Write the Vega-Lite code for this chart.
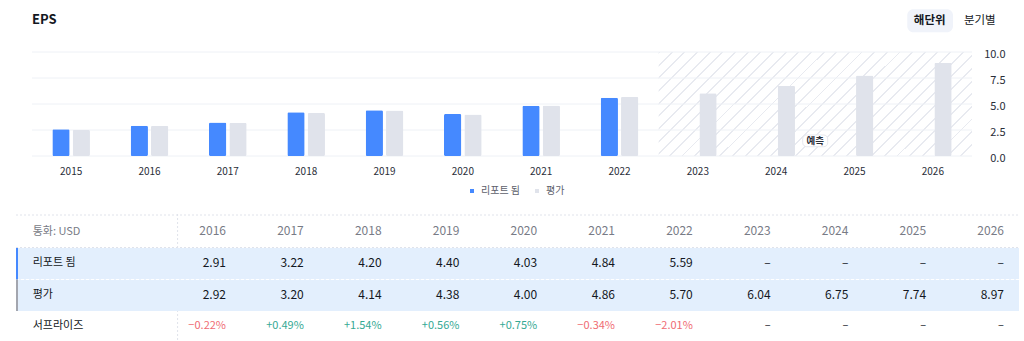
{
  "$schema": "https://vega.github.io/schema/vega-lite/v6.json",
  "padding": {"left": 15, "top": 9, "right": 0, "bottom": 0},
  "background": "#ffffff",
  "spacing": 17,
  "config": {"font": "Noto Sans CJK KR", "view": {"stroke": null}, "axis": {"labelOverlap": false}},
  "resolve": {"scale": {"color": "independent", "x": "independent", "y": "independent"}, "legend": {"color": "independent"}},
  "datasets": {
    "eps": [
      {"year": "2015", "series": "리포트 됨", "eps": 2.57},
      {"year": "2015", "series": "평가", "eps": 2.51},
      {"year": "2016", "series": "리포트 됨", "eps": 2.91},
      {"year": "2016", "series": "평가", "eps": 2.92},
      {"year": "2017", "series": "리포트 됨", "eps": 3.22},
      {"year": "2017", "series": "평가", "eps": 3.20},
      {"year": "2018", "series": "리포트 됨", "eps": 4.20},
      {"year": "2018", "series": "평가", "eps": 4.14},
      {"year": "2019", "series": "리포트 됨", "eps": 4.40},
      {"year": "2019", "series": "평가", "eps": 4.38},
      {"year": "2020", "series": "리포트 됨", "eps": 4.03},
      {"year": "2020", "series": "평가", "eps": 4.00},
      {"year": "2021", "series": "리포트 됨", "eps": 4.84},
      {"year": "2021", "series": "평가", "eps": 4.86},
      {"year": "2022", "series": "리포트 됨", "eps": 5.59},
      {"year": "2022", "series": "평가", "eps": 5.70},
      {"year": "2023", "series": "평가", "eps": 6.04},
      {"year": "2024", "series": "평가", "eps": 6.75},
      {"year": "2025", "series": "평가", "eps": 7.74},
      {"year": "2026", "series": "평가", "eps": 8.97}
    ],
    "grid": [{"v": 0}, {"v": 2.5}, {"v": 5}, {"v": 7.5}, {"v": 10}],
    "rows": [{"row": "통화: USD"}, {"row": "리포트 됨"}, {"row": "평가"}, {"row": "서프라이즈"}],
    "cells": [
      {"row": "통화: USD", "year": 2016, "text": "2016"},
      {"row": "통화: USD", "year": 2017, "text": "2017"},
      {"row": "통화: USD", "year": 2018, "text": "2018"},
      {"row": "통화: USD", "year": 2019, "text": "2019"},
      {"row": "통화: USD", "year": 2020, "text": "2020"},
      {"row": "통화: USD", "year": 2021, "text": "2021"},
      {"row": "통화: USD", "year": 2022, "text": "2022"},
      {"row": "통화: USD", "year": 2023, "text": "2023"},
      {"row": "통화: USD", "year": 2024, "text": "2024"},
      {"row": "통화: USD", "year": 2025, "text": "2025"},
      {"row": "통화: USD", "year": 2026, "text": "2026"},
      {"row": "리포트 됨", "year": 2016, "text": "2.91"},
      {"row": "리포트 됨", "year": 2017, "text": "3.22"},
      {"row": "리포트 됨", "year": 2018, "text": "4.20"},
      {"row": "리포트 됨", "year": 2019, "text": "4.40"},
      {"row": "리포트 됨", "year": 2020, "text": "4.03"},
      {"row": "리포트 됨", "year": 2021, "text": "4.84"},
      {"row": "리포트 됨", "year": 2022, "text": "5.59"},
      {"row": "리포트 됨", "year": 2023, "text": "–"},
      {"row": "리포트 됨", "year": 2024, "text": "–"},
      {"row": "리포트 됨", "year": 2025, "text": "–"},
      {"row": "리포트 됨", "year": 2026, "text": "–"},
      {"row": "평가", "year": 2016, "text": "2.92"},
      {"row": "평가", "year": 2017, "text": "3.20"},
      {"row": "평가", "year": 2018, "text": "4.14"},
      {"row": "평가", "year": 2019, "text": "4.38"},
      {"row": "평가", "year": 2020, "text": "4.00"},
      {"row": "평가", "year": 2021, "text": "4.86"},
      {"row": "평가", "year": 2022, "text": "5.70"},
      {"row": "평가", "year": 2023, "text": "6.04"},
      {"row": "평가", "year": 2024, "text": "6.75"},
      {"row": "평가", "year": 2025, "text": "7.74"},
      {"row": "평가", "year": 2026, "text": "8.97"},
      {"row": "서프라이즈", "year": 2016, "text": "−0.22%", "surprise": -0.22},
      {"row": "서프라이즈", "year": 2017, "text": "+0.49%", "surprise": 0.49},
      {"row": "서프라이즈", "year": 2018, "text": "+1.54%", "surprise": 1.54},
      {"row": "서프라이즈", "year": 2019, "text": "+0.56%", "surprise": 0.56},
      {"row": "서프라이즈", "year": 2020, "text": "+0.75%", "surprise": 0.75},
      {"row": "서프라이즈", "year": 2021, "text": "−0.34%", "surprise": -0.34},
      {"row": "서프라이즈", "year": 2022, "text": "−2.01%", "surprise": -2.01},
      {"row": "서프라이즈", "year": 2023, "text": "–"},
      {"row": "서프라이즈", "year": 2024, "text": "–"},
      {"row": "서프라이즈", "year": 2025, "text": "–"},
      {"row": "서프라이즈", "year": 2026, "text": "–"}
    ]
  },
  "vconcat": [
    {
      "width": 956,
      "height": 104,
      "encoding": {
        "x": {"type": "ordinal", "scale": {"domain": ["2015","2016","2017","2018","2019","2020","2021","2022","2023","2024","2025","2026"], "paddingInner": 0, "paddingOuter": 0.102, "align": 1, "round": false}},
        "y": {"type": "quantitative", "scale": {"domain": [0, 10], "nice": false, "zero": false}, "axis": {"orient": "right", "title": null, "values": [0, 2.5, 5, 7.5, 10], "format": ".1f", "grid": false, "domain": false, "ticks": false, "labelPadding": 33, "labelAlign": "right", "labelBaseline": "middle", "labelOffset": 2, "labelFlush": false, "labelOverlap": false, "labelSeparation": 0, "labelFontSize": 11, "labelColor": "#2a2e39"}}
      },
      "layer": [
        {
          "data": {"name": "eps"},
          "mark": {"type": "bar", "cornerRadius": 1.5, "opacity": 0},
          "encoding": {
            "x": {"field": "year", "type": "ordinal", "axis": {"orient": "bottom", "title": null, "bandPosition": 0.5, "labelAngle": 0, "labelAlign": "center", "domain": false, "ticks": false, "labelPadding": 10, "labelFontSize": 10, "labelColor": "#2a2e39"}},
            "xOffset": {"field": "series", "type": "nominal", "scale": {"domain": ["리포트 됨", "평가"], "paddingInner": 0.15, "paddingOuter": 1.0325}},
            "y": {"field": "eps", "type": "quantitative", "axis": {"orient": "right", "title": null, "values": [0, 2.5, 5, 7.5, 10], "format": ".1f", "grid": false, "domain": false, "ticks": false, "labelPadding": 33, "labelAlign": "right", "labelBaseline": "middle", "labelOffset": 2, "labelFlush": false, "labelOverlap": false, "labelSeparation": 0, "labelFontSize": 11, "labelColor": "#2a2e39"}}
          }
        },
        {
          "data": {"values": [{"zone": "예측"}]},
          "mark": {"type": "rect", "fill": {"gradient": "linear", "x1": 0, "y1": 0, "x2": 1.1998, "y2": 0.3987, "stops": [
            {"offset": 0, "color": "#e8eaf0"}, {"offset": 0.00455, "color": "#e8eaf0"}, {"offset": 0.00455, "color": "#ffffff"}, {"offset": 0.0303, "color": "#ffffff"},
            {"offset": 0.0303, "color": "#e8eaf0"}, {"offset": 0.03485, "color": "#e8eaf0"}, {"offset": 0.03485, "color": "#ffffff"}, {"offset": 0.0606, "color": "#ffffff"},
            {"offset": 0.0606, "color": "#e8eaf0"}, {"offset": 0.06515, "color": "#e8eaf0"}, {"offset": 0.06515, "color": "#ffffff"}, {"offset": 0.0909, "color": "#ffffff"},
            {"offset": 0.0909, "color": "#e8eaf0"}, {"offset": 0.09545, "color": "#e8eaf0"}, {"offset": 0.09545, "color": "#ffffff"}, {"offset": 0.12121, "color": "#ffffff"},
            {"offset": 0.12121, "color": "#e8eaf0"}, {"offset": 0.12576, "color": "#e8eaf0"}, {"offset": 0.12576, "color": "#ffffff"}, {"offset": 0.15152, "color": "#ffffff"},
            {"offset": 0.15152, "color": "#e8eaf0"}, {"offset": 0.15606, "color": "#e8eaf0"}, {"offset": 0.15606, "color": "#ffffff"}, {"offset": 0.18182, "color": "#ffffff"},
            {"offset": 0.18182, "color": "#e8eaf0"}, {"offset": 0.18636, "color": "#e8eaf0"}, {"offset": 0.18636, "color": "#ffffff"}, {"offset": 0.21212, "color": "#ffffff"},
            {"offset": 0.21212, "color": "#e8eaf0"}, {"offset": 0.21667, "color": "#e8eaf0"}, {"offset": 0.21667, "color": "#ffffff"}, {"offset": 0.24242, "color": "#ffffff"},
            {"offset": 0.24242, "color": "#e8eaf0"}, {"offset": 0.24697, "color": "#e8eaf0"}, {"offset": 0.24697, "color": "#ffffff"}, {"offset": 0.27273, "color": "#ffffff"},
            {"offset": 0.27273, "color": "#e8eaf0"}, {"offset": 0.27727, "color": "#e8eaf0"}, {"offset": 0.27727, "color": "#ffffff"}, {"offset": 0.30303, "color": "#ffffff"},
            {"offset": 0.30303, "color": "#e8eaf0"}, {"offset": 0.30758, "color": "#e8eaf0"}, {"offset": 0.30758, "color": "#ffffff"}, {"offset": 0.33333, "color": "#ffffff"},
            {"offset": 0.33333, "color": "#e8eaf0"}, {"offset": 0.33788, "color": "#e8eaf0"}, {"offset": 0.33788, "color": "#ffffff"}, {"offset": 0.36364, "color": "#ffffff"},
            {"offset": 0.36364, "color": "#e8eaf0"}, {"offset": 0.36818, "color": "#e8eaf0"}, {"offset": 0.36818, "color": "#ffffff"}, {"offset": 0.39394, "color": "#ffffff"},
            {"offset": 0.39394, "color": "#e8eaf0"}, {"offset": 0.39848, "color": "#e8eaf0"}, {"offset": 0.39848, "color": "#ffffff"}, {"offset": 0.42424, "color": "#ffffff"},
            {"offset": 0.42424, "color": "#e8eaf0"}, {"offset": 0.42879, "color": "#e8eaf0"}, {"offset": 0.42879, "color": "#ffffff"}, {"offset": 0.45455, "color": "#ffffff"},
            {"offset": 0.45455, "color": "#e8eaf0"}, {"offset": 0.45909, "color": "#e8eaf0"}, {"offset": 0.45909, "color": "#ffffff"}, {"offset": 0.48485, "color": "#ffffff"},
            {"offset": 0.48485, "color": "#e8eaf0"}, {"offset": 0.48939, "color": "#e8eaf0"}, {"offset": 0.48939, "color": "#ffffff"}, {"offset": 0.51515, "color": "#ffffff"},
            {"offset": 0.51515, "color": "#e8eaf0"}, {"offset": 0.5197, "color": "#e8eaf0"}, {"offset": 0.5197, "color": "#ffffff"}, {"offset": 0.54545, "color": "#ffffff"},
            {"offset": 0.54545, "color": "#e8eaf0"}, {"offset": 0.55, "color": "#e8eaf0"}, {"offset": 0.55, "color": "#ffffff"}, {"offset": 0.57576, "color": "#ffffff"},
            {"offset": 0.57576, "color": "#e8eaf0"}, {"offset": 0.5803, "color": "#e8eaf0"}, {"offset": 0.5803, "color": "#ffffff"}, {"offset": 0.60606, "color": "#ffffff"},
            {"offset": 0.60606, "color": "#e8eaf0"}, {"offset": 0.61061, "color": "#e8eaf0"}, {"offset": 0.61061, "color": "#ffffff"}, {"offset": 0.63636, "color": "#ffffff"},
            {"offset": 0.63636, "color": "#e8eaf0"}, {"offset": 0.64091, "color": "#e8eaf0"}, {"offset": 0.64091, "color": "#ffffff"}, {"offset": 0.66667, "color": "#ffffff"},
            {"offset": 0.66667, "color": "#e8eaf0"}, {"offset": 0.67121, "color": "#e8eaf0"}, {"offset": 0.67121, "color": "#ffffff"}, {"offset": 0.69697, "color": "#ffffff"},
            {"offset": 0.69697, "color": "#e8eaf0"}, {"offset": 0.70152, "color": "#e8eaf0"}, {"offset": 0.70152, "color": "#ffffff"}, {"offset": 0.72727, "color": "#ffffff"},
            {"offset": 0.72727, "color": "#e8eaf0"}, {"offset": 0.73182, "color": "#e8eaf0"}, {"offset": 0.73182, "color": "#ffffff"}, {"offset": 0.75758, "color": "#ffffff"},
            {"offset": 0.75758, "color": "#e8eaf0"}, {"offset": 0.76212, "color": "#e8eaf0"}, {"offset": 0.76212, "color": "#ffffff"}, {"offset": 0.78788, "color": "#ffffff"},
            {"offset": 0.78788, "color": "#e8eaf0"}, {"offset": 0.79242, "color": "#e8eaf0"}, {"offset": 0.79242, "color": "#ffffff"}, {"offset": 0.81818, "color": "#ffffff"},
            {"offset": 0.81818, "color": "#e8eaf0"}, {"offset": 0.82273, "color": "#e8eaf0"}, {"offset": 0.82273, "color": "#ffffff"}, {"offset": 0.84848, "color": "#ffffff"},
            {"offset": 0.84848, "color": "#e8eaf0"}, {"offset": 0.85303, "color": "#e8eaf0"}, {"offset": 0.85303, "color": "#ffffff"}, {"offset": 0.87879, "color": "#ffffff"},
            {"offset": 0.87879, "color": "#e8eaf0"}, {"offset": 0.88333, "color": "#e8eaf0"}, {"offset": 0.88333, "color": "#ffffff"}, {"offset": 0.90909, "color": "#ffffff"},
            {"offset": 0.90909, "color": "#e8eaf0"}, {"offset": 0.91364, "color": "#e8eaf0"}, {"offset": 0.91364, "color": "#ffffff"}, {"offset": 0.93939, "color": "#ffffff"},
            {"offset": 0.93939, "color": "#e8eaf0"}, {"offset": 0.94394, "color": "#e8eaf0"}, {"offset": 0.94394, "color": "#ffffff"}, {"offset": 0.9697, "color": "#ffffff"},
            {"offset": 0.9697, "color": "#e8eaf0"}, {"offset": 0.97424, "color": "#e8eaf0"}, {"offset": 0.97424, "color": "#ffffff"}, {"offset": 1, "color": "#ffffff"}
          ]}},
          "encoding": {
            "x": {"datum": "2023", "type": "ordinal", "bandPosition": 0},
            "x2": {"datum": "2026", "bandPosition": 1},
            "y": {"datum": 0, "type": "quantitative"},
            "y2": {"datum": 10}
          }
        },
        {
          "data": {"name": "grid"},
          "mark": {"type": "rule", "color": "#eef1f6", "strokeWidth": 1},
          "encoding": {
            "y": {"field": "v", "type": "quantitative"},
            "x": {"datum": "2015", "type": "ordinal", "bandPosition": 0},
            "x2": {"datum": "2026", "bandPosition": 1}
          }
        },
        {
          "data": {"name": "eps"},
          "mark": {"type": "bar", "cornerRadius": 1.5},
          "encoding": {
            "x": {"field": "year", "type": "ordinal"},
            "xOffset": {"field": "series", "type": "nominal"},
            "y": {"field": "eps", "type": "quantitative"},
            "color": {"field": "series", "type": "nominal", "scale": {"domain": ["리포트 됨", "평가"], "range": ["#4589ff", "#e0e3eb"]}, "legend": {"orient": "none", "legendX": 451, "legendY": 134, "direction": "horizontal", "title": null, "symbolType": "square", "symbolSize": 16, "symbolStrokeWidth": 0, "labelFontSize": 10, "labelColor": "#5d606b", "labelOffset": 4, "columnPadding": 11, "encode": {"symbols": {"update": {"fill": [{"test": "datum.label === '평가'", "value": "#b2b5be"}, {"value": "#4589ff"}]}}}}}
          }
        },
        {
          "data": {"values": [{"label": "예측"}]},
          "mark": {"type": "rect", "fill": "#ffffff", "stroke": "#e6e8ee", "strokeWidth": 1, "cornerRadius": 4},
          "encoding": {
            "x": {"datum": "2024", "type": "ordinal", "bandPosition": 0.839},
            "x2": {"datum": "2024", "bandPosition": 1.158},
            "y": {"datum": 2.02, "type": "quantitative"},
            "y2": {"datum": 0.89}
          }
        },
        {
          "data": {"values": [{"label": "예측"}]},
          "mark": {"type": "text", "fontSize": 9.5, "fontWeight": "bold", "color": "#2a2e39", "align": "center", "baseline": "middle"},
          "encoding": {
            "x": {"datum": "2024", "type": "ordinal", "bandPosition": 1.0},
            "y": {"datum": 1.44, "type": "quantitative"},
            "text": {"field": "label"}
          }
        },
        {
          "data": {"values": [{"label": "해단위"}]},
          "mark": {"type": "rect", "fill": "#f0f3fa", "cornerRadius": 6},
          "encoding": {
            "x": {"datum": "2026", "type": "ordinal", "bandPosition": 0.174},
            "x2": {"datum": "2026", "bandPosition": 0.757},
            "y": {"datum": 14.1, "type": "quantitative"},
            "y2": {"datum": 11.89}
          }
        },
        {
          "data": {"values": [{"label": "EPS"}]},
          "mark": {"type": "text", "fontSize": 13, "fontWeight": "bold", "color": "#131722", "align": "left", "baseline": "middle"},
          "encoding": {
            "x": {"datum": "2015", "type": "ordinal", "bandPosition": 0},
            "y": {"datum": 13.1, "type": "quantitative"},
            "text": {"field": "label"}
          }
        },
        {
          "data": {"values": [{"label": "해단위"}]},
          "mark": {"type": "text", "fontSize": 11.5, "fontWeight": "bold", "color": "#131722", "align": "center", "baseline": "middle"},
          "encoding": {
            "x": {"datum": "2026", "type": "ordinal", "bandPosition": 0.46},
            "y": {"datum": 13.0, "type": "quantitative"},
            "text": {"field": "label"}
          }
        },
        {
          "data": {"values": [{"label": "분기별"}]},
          "mark": {"type": "text", "fontSize": 11.5, "color": "#131722", "align": "center", "baseline": "middle"},
          "encoding": {
            "x": {"datum": "2026", "type": "ordinal", "bandPosition": 1.1},
            "y": {"datum": 13.0, "type": "quantitative"},
            "text": {"field": "label"}
          }
        }
      ]
    },
    {
      "width": 1003,
      "height": 126,
      "encoding": {
        "x": {"type": "quantitative", "scale": {"domain": [2013.301, 2026.193], "nice": false, "zero": false}, "axis": null},
        "y": {"type": "nominal", "scale": {"domain": ["통화: USD", "리포트 됨", "평가", "서프라이즈"], "paddingInner": 0, "paddingOuter": 0, "round": false}, "axis": null}
      },
      "layer": [
        {
          "data": {"values": [{"k": "divider"}]},
          "mark": {"type": "rule", "color": "#e0e3eb", "strokeDash": [2, 2]},
          "encoding": {
            "x": {"datum": 2015.378, "type": "quantitative"},
            "y": {"datum": "통화: USD", "type": "nominal", "bandPosition": 0},
            "y2": {"datum": "서프라이즈", "bandPosition": 1}
          }
        },
        {
          "data": {"values": [{"k": "top"}]},
          "mark": {"type": "rule", "color": "#e0e3eb", "strokeDash": [2, 2], "yOffset": 1},
          "encoding": {
            "y": {"datum": "통화: USD", "type": "nominal", "bandPosition": 0},
            "x": {"datum": 2013.301, "type": "quantitative"},
            "x2": {"datum": 2026.193}
          }
        },
        {
          "data": {"name": "rows"},
          "transform": [{"filter": "datum.row === '리포트 됨' || datum.row === '평가'"}],
          "mark": {"type": "rect", "fill": "#e3effd", "yOffset": 2.5, "y2Offset": 2.5},
          "encoding": {
            "y": {"field": "row", "type": "nominal"},
            "x": {"datum": 2013.301, "type": "quantitative"},
            "x2": {"datum": 2026.193}
          }
        },
        {
          "data": {"values": [{"k": "sep"}]},
          "mark": {"type": "rule", "color": "#e0e3eb", "strokeDash": [2, 2], "yOffset": 2},
          "encoding": {
            "y": {"datum": "리포트 됨", "type": "nominal", "bandPosition": 0},
            "x": {"datum": 2013.301, "type": "quantitative"},
            "x2": {"datum": 2026.193}
          }
        },
        {
          "data": {"values": [{"k": "sep2"}]},
          "mark": {"type": "rule", "color": "#ffffff", "strokeDash": [3, 2], "yOffset": 2.5},
          "encoding": {
            "y": {"datum": "평가", "type": "nominal", "bandPosition": 0},
            "x": {"datum": 2013.301, "type": "quantitative"},
            "x2": {"datum": 2026.193}
          }
        },
        {
          "data": {"name": "rows"},
          "transform": [{"filter": "datum.row === '리포트 됨' || datum.row === '평가'"}],
          "mark": {"type": "rect", "yOffset": 2.5, "y2Offset": 2.5},
          "encoding": {
            "y": {"field": "row", "type": "nominal"},
            "x": {"datum": 2013.301, "type": "quantitative"},
            "x2": {"datum": 2013.327},
            "color": {"condition": {"test": "datum.row === '리포트 됨'", "value": "#4589ff"}, "value": "#a3a6af"}
          }
        },
        {
          "data": {"name": "rows"},
          "mark": {"type": "text", "align": "left", "baseline": "middle", "fontSize": 11, "dy": 2},
          "encoding": {
            "y": {"field": "row", "type": "nominal"},
            "x": {"datum": 2013.516, "type": "quantitative"},
            "text": {"field": "row"},
            "color": {"condition": {"test": "datum.row === '통화: USD'", "value": "#787b86"}, "value": "#131722"}
          }
        },
        {
          "data": {"name": "cells"},
          "transform": [{"filter": "datum.row === '통화: USD'"}],
          "mark": {"type": "text", "align": "right", "baseline": "middle", "fontSize": 12, "dy": 1, "color": "#787b86"},
          "encoding": {
            "y": {"field": "row", "type": "nominal"},
            "x": {"field": "year", "type": "quantitative"},
            "text": {"field": "text"}
          }
        },
        {
          "data": {"name": "cells"},
          "transform": [{"filter": "datum.row === '리포트 됨' || datum.row === '평가'"}],
          "mark": {"type": "text", "align": "right", "baseline": "middle", "fontSize": 12, "dy": 2, "color": "#131722"},
          "encoding": {
            "y": {"field": "row", "type": "nominal"},
            "x": {"field": "year", "type": "quantitative"},
            "text": {"field": "text"}
          }
        },
        {
          "data": {"name": "cells"},
          "transform": [{"filter": "datum.row === '서프라이즈'"}],
          "mark": {"type": "text", "align": "right", "baseline": "middle", "fontSize": 11, "dy": 2},
          "encoding": {
            "y": {"field": "row", "type": "nominal"},
            "x": {"field": "year", "type": "quantitative"},
            "text": {"field": "text"},
            "color": {"condition": [{"test": "datum.surprise < 0", "value": "#f06b73"}, {"test": "datum.surprise > 0", "value": "#35a994"}], "value": "#131722"}
          }
        }
      ]
    }
  ]
}
